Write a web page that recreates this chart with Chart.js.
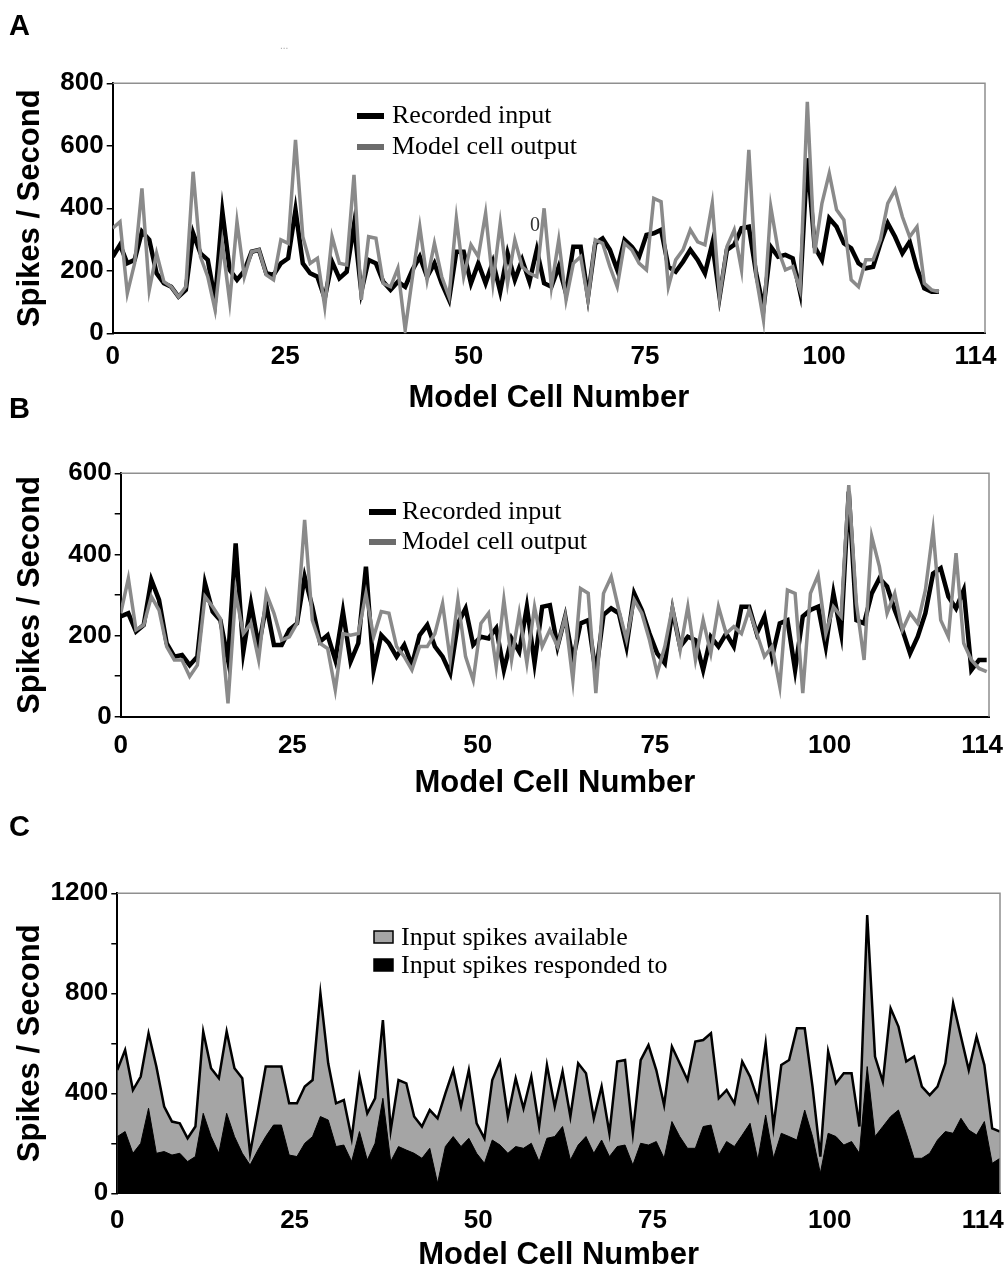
<!DOCTYPE html>
<html lang="en">
<head>
<meta charset="UTF-8">
<title>Model cell firing</title>
<script src="https://cdn.jsdelivr.net/npm/chart.js"></script>
<style>
  body { margin: 0; background: #fff; width: 1007px; height: 1270px; position: relative; overflow: hidden; }
  canvas { position: absolute; left: 0; }
</style>
</head>
<body>
<canvas id="chartA" width="1007" height="420" style="top:0px"></canvas>
<canvas id="chartB" width="1007" height="425" style="top:380px"></canvas>
<canvas id="chartC" width="1007" height="466" style="top:805px"></canvas>

<script>
// Panel A : recorded input vs model cell output (spikes / s), one value per model cell
const recordedA = [
  245, 283, 224, 235, 325, 299, 192, 160, 149, 117,
  139, 320, 256, 235, 107, 389, 203, 171, 200, 261,
  267, 192, 187, 224, 240, 395, 224, 192, 181, 112,
  229, 176, 197, 347, 133, 235, 224, 165, 139, 165,
  149, 203, 245, 181, 224, 160, 107, 261, 261, 160,
  224, 160, 229, 133, 256, 171, 235, 165, 267, 160,
  149, 213, 128, 277, 277, 117, 288, 304, 267, 203,
  299, 277, 245, 315, 320, 331, 213, 197, 229, 267,
  235, 192, 288, 117, 267, 283, 336, 341, 192, 80,
  277, 245, 251, 240, 133, 560, 277, 235, 368, 341,
  288, 272, 224, 208, 213, 288, 352, 309, 256, 293,
  208, 144, 133, 133
];
const modelA = [
  336, 357, 128, 224, 464, 139, 256, 165, 149, 117,
  149, 517, 245, 181, 75, 288, 101, 357, 181, 261,
  267, 187, 171, 299, 288, 619, 309, 224, 240, 85,
  309, 224, 219, 507, 107, 309, 304, 160, 149, 208,
  11, 181, 341, 171, 288, 181, 117, 368, 181, 283,
  245, 384, 160, 352, 160, 299, 213, 192, 181, 400,
  149, 299, 107, 224, 245, 107, 299, 288, 213, 149,
  288, 267, 224, 203, 432, 421, 149, 235, 267, 331,
  293, 283, 416, 117, 277, 331, 203, 587, 181, 43,
  405, 267, 203, 213, 139, 741, 256, 416, 512, 395,
  363, 171, 149, 235, 235, 299, 416, 459, 373, 309,
  341, 160, 139, 133
];

// Panel B
const recordedB = [
  247, 255, 210, 226, 337, 288, 181, 148, 152, 127,
  148, 329, 259, 238, 140, 427, 160, 279, 173, 275,
  177, 177, 214, 230, 345, 271, 185, 201, 140, 259,
  136, 181, 370, 115, 201, 181, 148, 177, 127, 201,
  226, 173, 148, 107, 230, 267, 177, 197, 193, 218,
  115, 193, 160, 271, 132, 271, 275, 173, 247, 140,
  230, 238, 107, 251, 267, 255, 173, 304, 263, 205,
  156, 132, 263, 173, 197, 189, 115, 197, 173, 205,
  173, 271, 271, 205, 247, 148, 230, 238, 115, 247,
  263, 271, 173, 304, 205, 555, 238, 230, 304, 341,
  321, 263, 214, 156, 197, 255, 353, 366, 296, 267,
  312, 115, 140, 140
];
const modelB = [
  255, 341, 214, 226, 296, 263, 173, 140, 140, 99,
  127, 296, 271, 242, 33, 304, 205, 230, 140, 304,
  255, 189, 197, 230, 485, 238, 181, 168, 66, 205,
  201, 205, 304, 197, 259, 255, 173, 148, 115, 173,
  173, 205, 279, 140, 288, 148, 90, 230, 255, 123,
  288, 140, 255, 132, 271, 173, 214, 173, 247, 90,
  316, 304, 58, 304, 345, 263, 189, 288, 255, 189,
  107, 173, 271, 164, 271, 140, 238, 156, 271, 205,
  222, 205, 263, 205, 148, 173, 74, 312, 304, 58,
  304, 349, 205, 271, 247, 571, 279, 140, 444, 370,
  255, 304, 214, 255, 230, 312, 460, 238, 197, 403,
  181, 140, 119, 111
];

// Panel C
const availableC = [
  493, 573, 413, 467, 640, 507, 347, 287, 280, 220,
  267, 647, 500, 460, 647, 500, 460, 160, 330, 507,
  507, 507, 360, 360, 427, 453, 800, 520, 360, 373,
  220, 467, 320, 380, 693, 253, 453, 440, 307, 267,
  333, 300, 400, 493, 347, 493, 280, 220, 453, 527,
  307, 460, 340, 467, 267, 513, 347, 487, 307, 520,
  480, 300, 427, 240, 527, 533, 240, 533, 593, 493,
  353, 587, 520, 453, 607, 613, 640, 380, 413, 360,
  527, 467, 373, 600, 267, 513, 533, 660, 660, 427,
  147, 567, 440, 480, 480, 267, 1113, 547, 447, 740,
  667, 527, 547, 427, 393, 427, 520, 760, 627, 493,
  627, 513, 260, 247
];
const respondedC = [
  227, 247, 160, 200, 340, 160, 167, 153, 160, 127,
  147, 320, 227, 160, 320, 227, 160, 113, 173, 227,
  273, 273, 153, 147, 200, 227, 307, 293, 187, 193,
  127, 247, 133, 200, 380, 127, 187, 173, 160, 140,
  180, 40, 187, 227, 187, 220, 160, 120, 213, 193,
  160, 187, 180, 200, 127, 220, 227, 267, 133, 193,
  227, 160, 213, 147, 187, 193, 113, 200, 193, 207,
  140, 287, 227, 180, 180, 267, 273, 153, 207, 187,
  233, 280, 133, 313, 140, 240, 227, 213, 333, 227,
  80, 240, 227, 193, 207, 160, 507, 227, 267, 307,
  333, 240, 140, 140, 160, 213, 247, 240, 300, 253,
  233, 287, 120, 140
];

// x tick labels and where they sit along the cell axis in each panel
const xTickText = ['0', '25', '50', '75', '100', '114'];
const xTickAtA = [0, 23.6, 48.7, 72.8, 97.3, 118];
const xTickAtB = [0, 22.4, 46.6, 69.7, 92.5, 112.4];
const xTickAtC = [0, 22.7, 46.2, 68.5, 91.2, 110.8];
const yLabelsA = [0, 200, 400, 600, 800];
const yLabelsB = [0, 200, 400, 600];
const yLabelsC = [0, 400, 800, 1200];

const SANS = '"Liberation Sans", Arial, sans-serif';
const SERIF = '"Liberation Serif", "Times New Roman", serif';

const toPoints = arr => arr.map((v, i) => ({ x: i, y: v }));

// gray frame on top/right, panel letter, legend and stray marks
const decorPlugin = {
    id: 'decor',
    afterDraw(chart, args, o) {
        const { ctx, chartArea: a } = chart;
        ctx.save();
        ctx.strokeStyle = '#8f8f8f';
        ctx.lineWidth = 1.5;
        ctx.beginPath();
        ctx.moveTo(a.left, a.top);
        ctx.lineTo(a.right, a.top);
        ctx.lineTo(a.right, a.bottom);
        ctx.stroke();

        ctx.fillStyle = '#000';
        ctx.font = 'bold 29px ' + SANS;
        ctx.textBaseline = 'middle';
        ctx.fillText(o.letter, 9, o.letterY);

        ctx.font = '26px ' + SERIF;
        ctx.textBaseline = 'alphabetic';
        o.order.forEach((di, row) => {
            const ds = chart.data.datasets[di];
            const y = o.legendY + row * o.legendGap;
            if (o.boxes) {
                ctx.fillStyle = ds.backgroundColor;
                ctx.fillRect(o.legendX, y - 14, 19, 12);
                ctx.strokeStyle = '#000';
                ctx.lineWidth = 1.5;
                ctx.strokeRect(o.legendX, y - 14, 19, 12);
            } else {
                ctx.fillStyle = ds.legendColor || ds.borderColor;
                ctx.fillRect(o.legendX, y - 10, 27, 6);
            }
            ctx.fillStyle = '#000';
            ctx.fillText(ds.label, o.legendX + o.textDx, y);
        });

        (o.notes || []).forEach(n => {
            ctx.fillStyle = n.color;
            ctx.font = n.font;
            ctx.fillText(n.text, n.x, n.y);
        });
        ctx.restore();
    }
};

function makeScales(p) {
    return {
        x: {
            type: 'linear',
            min: 0,
            max: p.xMax,
            afterBuildTicks: s => { s.ticks = p.xTickAt.map(v => ({ value: v })); },
            afterFit: s => { s.height = p.xHeight; s.paddingLeft = 0; s.paddingRight = 0; },
            grid: { display: false, drawTicks: false },
            border: { display: true, color: '#000', width: 2 },
            ticks: {
                autoSkip: false, maxRotation: 0, padding: p.xPad, color: '#000',
                font: { family: SANS, size: 26, weight: 'bold' },
                callback: (v, i) => xTickText[i]
            },
            title: {
                display: true, text: 'Model Cell Number', color: '#000', padding: 0,
                font: { family: SANS, size: 31, weight: 'bold', lineHeight: 1 }
            }
        },
        y: {
            min: 0,
            max: p.yMax,
            afterFit: s => { s.width = p.yWidth; },
            grid: { display: true, drawOnChartArea: false, drawTicks: true, tickLength: 6, color: '#000', lineWidth: 1.5 },
            border: { display: true, color: '#000', width: 2 },
            ticks: {
                stepSize: p.yStep, padding: 3, color: '#000',
                font: { family: SANS, size: 26, weight: 'bold' },
                callback: v => p.yLabels.includes(v) ? String(v) : ''
            },
            title: {
                display: true, text: 'Spikes / Second', color: '#000', padding: { top: 15, bottom: 0 },
                font: { family: SANS, size: 31, weight: 'bold', lineHeight: 1 }
            }
        }
    };
}

const common = {
    responsive: false,
    animation: false,
    events: [],
    plugins: { legend: { display: false }, tooltip: { enabled: false } }
};

// A
new Chart(document.getElementById('chartA'), {
    type: 'line',
    data: {
        datasets: [{
            label: 'Model cell output',
            data: toPoints(modelA),
            borderColor: '#8a8a8a',
            legendColor: '#6c6c6c',
            borderWidth: 3.5,
            pointRadius: 0,
            order: 1
        }, {
            label: 'Recorded input',
            data: toPoints(recordedA),
            borderColor: '#000',
            borderWidth: 4.5,
            pointRadius: 0,
            order: 2
        }]
    },
    options: {
        ...common,
        layout: { padding: { top: 83.3, right: 22, bottom: 6.5, left: 0 } },
        scales: makeScales({ xMax: 119.3, xTickAt: xTickAtA, xHeight: 80.2, xPad: 8,
                             yMax: 800, yStep: 100, yLabels: yLabelsA, yWidth: 112.7 }),
        plugins: {
            ...common.plugins,
            decor: {
                letter: 'A', letterY: 27, order: [1, 0], boxes: false,
                legendX: 357, legendY: 123, legendGap: 31, textDx: 35,
                notes: [
                    { text: '0', x: 530, y: 231, font: '20px ' + SERIF, color: '#333' },
                    { text: '...', x: 280, y: 49, font: '10px ' + SANS, color: '#aaa' }
                ]
            }
        }
    },
    plugins: [decorPlugin]
});

// B
new Chart(document.getElementById('chartB'), {
    type: 'line',
    data: {
        datasets: [{
            label: 'Model cell output',
            data: toPoints(modelB),
            borderColor: '#8a8a8a',
            legendColor: '#6c6c6c',
            borderWidth: 3.5,
            pointRadius: 0,
            order: 1
        }, {
            label: 'Recorded input',
            data: toPoints(recordedB),
            borderColor: '#000',
            borderWidth: 4.5,
            pointRadius: 0,
            order: 2
        }]
    },
    options: {
        ...common,
        layout: { padding: { top: 93.3, right: 18, bottom: 6.5, left: 0 } },
        scales: makeScales({ xMax: 113.3, xTickAt: xTickAtB, xHeight: 81.8, xPad: 14,
                             yMax: 600, yStep: 100, yLabels: yLabelsB, yWidth: 120.7 }),
        plugins: {
            ...common.plugins,
            decor: {
                letter: 'B', letterY: 30, order: [1, 0], boxes: false,
                legendX: 369, legendY: 139, legendGap: 30, textDx: 33
            }
        }
    },
    plugins: [decorPlugin]
});

// C
new Chart(document.getElementById('chartC'), {
    type: 'line',
    data: {
        datasets: [{
            label: 'Input spikes responded to',
            data: toPoints(respondedC),
            backgroundColor: '#000',
            borderColor: '#000',
            borderWidth: 1,
            fill: 'origin',
            pointRadius: 0,
            order: 1
        }, {
            label: 'Input spikes available',
            data: toPoints(availableC),
            backgroundColor: '#a5a5a5',
            borderColor: '#000',
            borderWidth: 2.5,
            fill: 'origin',
            pointRadius: 0,
            order: 2
        }]
    },
    options: {
        ...common,
        layout: { padding: { top: 88.3, right: 7, bottom: 0.5, left: 0 } },
        scales: makeScales({ xMax: 113, xTickAt: xTickAtC, xHeight: 77.2, xPad: 12,
                             yMax: 1200, yStep: 200, yLabels: yLabelsC, yWidth: 117.3 }),
        plugins: {
            ...common.plugins,
            decor: {
                letter: 'C', letterY: 23, order: [1, 0], boxes: true,
                legendX: 374, legendY: 140, legendGap: 28, textDx: 27
            }
        }
    },
    plugins: [decorPlugin]
});
</script>
</body>
</html>
